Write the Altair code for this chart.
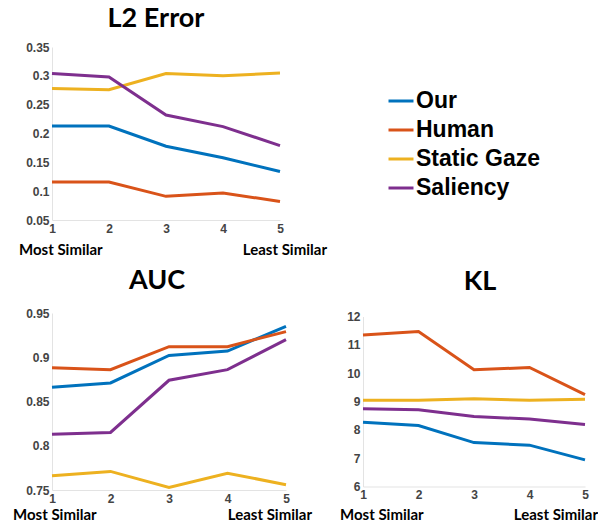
import altair as alt
import pandas as pd

series = ["Our", "Human", "Static Gaze", "Saliency"]
colors = ["#0072BD", "#D95319", "#EDB120", "#7E2F8E"]
x_vals = [1, 2, 3, 4, 5]

l2_our = [0.213, 0.213, 0.178, 0.158, 0.134]
l2_human = [0.116, 0.116, 0.091, 0.097, 0.082]
l2_static = [0.278, 0.276, 0.304, 0.300, 0.305]
l2_saliency = [0.304, 0.298, 0.232, 0.212, 0.179]

auc_our = [0.866, 0.871, 0.902, 0.907, 0.935]
auc_human = [0.888, 0.886, 0.912, 0.912, 0.929]
auc_static = [0.766, 0.771, 0.753, 0.769, 0.756]
auc_saliency = [0.813, 0.815, 0.874, 0.886, 0.920]

kl_our = [8.27, 8.15, 7.55, 7.46, 6.94]
kl_human = [11.35, 11.47, 10.12, 10.2, 9.24]
kl_static = [9.04, 9.04, 9.1, 9.04, 9.08]
kl_saliency = [8.74, 8.71, 8.47, 8.38, 8.19]

l2_ticks = [0.05, 0.1, 0.15, 0.2, 0.25, 0.3, 0.35]
auc_ticks = [0.75, 0.8, 0.85, 0.9, 0.95]
kl_ticks = [6, 7, 8, 9, 10, 11, 12]

most_label = ["Most Similar"]
least_label = ["Least Similar"]

TITLE_FONT = "Lato"
TICK_FONT = "Liberation Sans"


def make_df(lists):
    rows = []
    for name, vals in zip(series, lists):
        for xv, v in zip(x_vals, vals):
            rows.append({"x": xv, "v": v, "s": name})
    return pd.DataFrame(rows)


def panel(lists, ticks, w, h, title, title_dx, title_offset, most_x, least_x, label_dy):
    df = make_df(lists)
    lines = alt.Chart(df).mark_line(strokeWidth=3).encode(
        x=alt.X("x:Q", scale=alt.Scale(domain=[1, 5], nice=False, zero=False),
                axis=alt.Axis(values=x_vals, format="d", title=None, labelFlush=False,
                              labelPadding=3)),
        y=alt.Y("v:Q", scale=alt.Scale(domain=[ticks[0], ticks[-1]], nice=False, zero=False),
                axis=alt.Axis(values=ticks, format="~g", title=None, labelPadding=3)),
        color=alt.Color("s:N", scale=alt.Scale(domain=series, range=colors),
                        legend=alt.Legend(orient="none", legendX=335, legendY=40, title=None,
                                          symbolType="stroke", symbolSize=625, symbolStrokeWidth=3,
                                          labelFont="Liberation Sans", labelFontSize=23,
                                          labelFontWeight="bold", labelColor="black",
                                          labelOffset=1, rowPadding=3)),
        order=alt.Order("x:Q"),
    )
    most = alt.Chart(pd.DataFrame({"t": most_label})).mark_text(
        align="left", baseline="middle", font=TITLE_FONT, fontWeight="bold", fontSize=15, color="black"
    ).encode(text="t:N", x=alt.value(most_x), y=alt.value(h + label_dy))
    least = alt.Chart(pd.DataFrame({"t": least_label})).mark_text(
        align="right", baseline="middle", font=TITLE_FONT, fontWeight="bold", fontSize=15, color="black"
    ).encode(text="t:N", x=alt.value(least_x), y=alt.value(h + label_dy))
    return alt.layer(lines, most, least).properties(
        width=w, height=h,
        title=alt.TitleParams(title, font=TITLE_FONT, fontSize=27, fontWeight="bold",
                              color="black", anchor="middle", dx=title_dx, offset=title_offset),
    )


l2 = panel([l2_our, l2_human, l2_static, l2_saliency], l2_ticks, 228, 173,
           "L2 Error", -10, 8, -33, 275, 30)
auc = panel([auc_our, auc_human, auc_static, auc_saliency], auc_ticks, 234, 177,
            "AUC", -12, 12, -39, 260, 25)
kl = panel([kl_our, kl_human, kl_static, kl_saliency], kl_ticks, 222, 170,
           "KL", 6, 15, -23, 235, 28)

row2 = alt.hconcat(auc, kl, spacing=77, bounds="flush", center=True)
chart = alt.vconcat(l2, row2, spacing=93, bounds="flush").properties(
    padding={"left": 5, "top": -3, "right": 0, "bottom": 0}
).configure_view(strokeWidth=0).configure_axis(
    domainColor="#e3e3e3", ticks=False, grid=False, labelFont=TICK_FONT,
    labelFontSize=12, labelFontWeight="bold", labelColor="#444444"
)

chart.save("out.html", embed_options={"renderer": "svg", "actions": False})
